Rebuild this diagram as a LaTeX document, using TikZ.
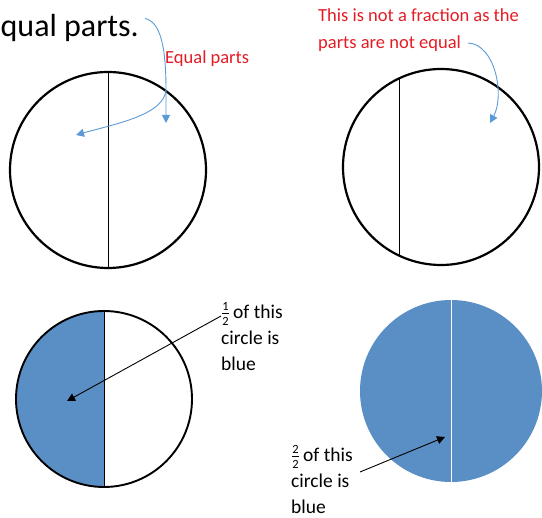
\documentclass[tikz,border=0pt]{standalone}
\usepackage{fontspec}
\setmainfont{Carlito}
\usepackage{tikz}
\usetikzlibrary{arrows.meta,calc}
\definecolor{pieblue}{RGB}{89,143,197}
\definecolor{notered}{RGB}{228,28,36}
\definecolor{pointerblue}{RGB}{91,155,213}
\tikzset{
  disc/.style={circle,draw=black,line width=2.2pt,minimum size=#1,inner sep=0pt},
  divider/.style={draw=black,line width=0.9pt},
  headline/.style={font=\fontsize{32}{38}\selectfont,inner sep=0pt},
  rednote/.style={text=notered,font=\fontsize{18.5}{27}\selectfont,align=left,
    inner sep=0pt},
  bodylabel/.style={font=\fontsize{19.5}{26}\selectfont,align=left,inner sep=0pt},
  curvy/.style={-{Triangle[length=8pt,width=8pt]},line width=0.9pt,draw=pointerblue},
  pointer/.style={-{Triangle[length=8pt,width=8pt]},line width=0.9pt,draw=black}
}
\newcommand{\partfrac}[2]{$\frac{\mbox{\fontsize{12.5}{12.5}\selectfont#1}}%
  {\mbox{\fontsize{12.5}{12.5}\selectfont#2}}$\,}

\begin{document}
\begin{tikzpicture}[x=1pt,y=-1pt]
  \useasboundingbox (0,0) rectangle (542,518);
  \node[disc=196pt] (topLeft) at (108,170) {};
  \node[disc=196pt] (topRight) at (441,167) {};
  \node[disc=176pt,line width=1.9pt,path picture={\fill[pieblue]
    (path picture bounding box.north west)
    rectangle (path picture bounding box.south);}] (halfDisc) at (104,399) {};
  \node[circle,fill=pieblue,minimum size=182pt,inner sep=0pt] (wholeDisc) at (451,391) {};
  \draw[divider] (topLeft.north) -- (topLeft.south);
  \draw[divider] (topRight.115) -- (topRight.245);
  \draw[divider] (halfDisc.north) -- (halfDisc.south);
  \draw[white,line width=1pt] (wholeDisc.north) -- (wholeDisc.south);
  \node[headline,anchor=base west] (title) at (0.5,37) {qual parts.};
  \node[rednote,anchor=base west] (equalNote) at (165,64) {Equal parts};
  \node[rednote,anchor=north west] (notFraction) at (318,8)
    {This is not a fraction as the\\parts are not equal};
  \node[bodylabel,anchor=north west] (halfLabel) at (221,302)
    {\partfrac{1}{2}of this\\circle is\\blue};
  \node[bodylabel,anchor=north west] (wholeLabel) at (291,445)
    {\partfrac{2}{2}of this\\circle is\\blue};
  \coordinate (forkPoint) at (166,90);
  \coordinate (rightHalfTip) at (166,123);
  \coordinate (leftHalfTip) at (76,135);
  \coordinate (unequalTip) at (490,123);
  \coordinate (halfTip) at (67,401);
  \coordinate (wholeTip) at (445,437);
  \draw[curvy] ([xshift=6pt,yshift=10pt]title.east) .. controls (160,22) and (166,45)
    .. (forkPoint) -- (rightHalfTip);
  \draw[curvy] (forkPoint) .. controls (164,115) and (115,124) .. (leftHalfTip);
  \draw[curvy] ([xshift=150pt,yshift=-35pt]notFraction.north west)
    .. controls (495,44) and (505,95) .. (unequalTip);
  \draw[pointer] ([yshift=-14pt]halfLabel.north west) -- (halfTip);
  \draw[pointer] ([xshift=69pt,yshift=-27pt]wholeLabel.north west) -- (wholeTip);
\end{tikzpicture}
\end{document}
